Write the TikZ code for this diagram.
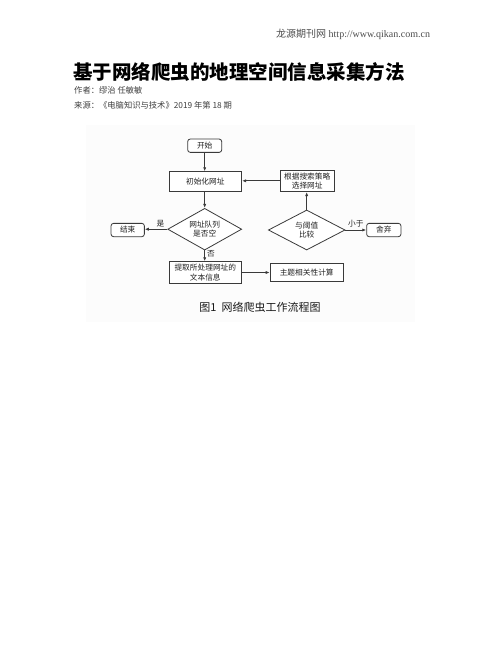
\documentclass[tikz,border=0pt]{standalone}
\usepackage{fontspec}
\setmainfont{Liberation Serif}
\newfontfamily\cjk{Noto Sans CJK SC}
\usetikzlibrary{shapes.geometric,arrows.meta}
\definecolor{linec}{HTML}{3A3A3A}
\definecolor{txtc}{HTML}{222222}
\tikzset{
  fbox/.style={draw=linec,fill=white,line width=0.8pt,inner sep=0pt,align=center,text=txtc,font=\cjk\fontsize{7.7}{9.2}\selectfont},
  rbox/.style={fbox,rounded corners=2.5pt},
  dbox/.style={fbox,diamond,aspect=1.8},
  conn/.style={draw=linec,line width=0.8pt,-{Latex[length=4pt,width=3.2pt]}},
  lbl/.style={text=txtc,inner sep=0pt,font=\cjk\fontsize{7.7}{9}\selectfont}
}
\begin{document}
\begin{tikzpicture}[x=1pt,y=-1pt]
\useasboundingbox[fill=white] (0,0) rectangle (502,649);
% header
\node[anchor=west,inner sep=0pt,text=black!70] (hdr) at (276,34) {{\cjk\fontsize{10}{12}\selectfont 龙源期刊网} {\fontsize{10}{12}\selectfont http://www.qikan.com.cn}};
\node[anchor=west,inner sep=0pt] (title) at (73,71.5) {\cjk\bfseries\fontsize{19.5}{22}\selectfont 基于网络爬虫的地理空间信息采集方法};
\node[anchor=west,inner sep=0pt,text=black!75] (auth) at (74,90.7) {\cjk\fontsize{8.3}{10}\selectfont 作者：缪治 任敏敏};
\node[anchor=west,inner sep=0pt,text=black!75] (src) at (74,105) {\cjk\fontsize{8.3}{10}\selectfont 来源：《电脑知识与技术》2019 年第 18 期};
% figure background
\fill[black!1] (86,125) rectangle (415,322);
% nodes
\node[rbox,minimum width=34pt,minimum height=13.3pt] (start) at (204.7,145.7) {开始};
\node[fbox,minimum width=72.7pt,minimum height=20pt] (init) at (205.3,181.7) {初始化网址};
\node[fbox,minimum width=54.3pt,minimum height=21.7pt] (choose) at (307.2,180.8) {根据搜索策略\\选择网址};
\node[dbox,minimum width=74pt,minimum height=41.7pt] (q) at (204.7,229.2) {网址队列\\是否空};
\node[rbox,minimum width=33.3pt,minimum height=13.3pt] (end) at (127.7,230) {结束};
\node[fbox,minimum width=72.7pt,minimum height=21.7pt] (extract) at (205.3,272.5) {提取所处理网址的\\文本信息};
\node[fbox,minimum width=73.3pt,minimum height=18.3pt] (topic) at (306.7,272.5) {主题相关性计算};
\node[dbox,minimum width=76.7pt,minimum height=40pt] (cmp) at (306.7,230) {与阈值\\比较};
\node[rbox,minimum width=34.3pt,minimum height=13.3pt] (drop) at (383.8,230) {舍弃};
% connectors
\draw[conn] (start.south) -- (start.south |- init.north);
\draw[conn] (choose.west) -- (init.east |- choose.west);
\draw[conn] (init.south -| q.north) -- (q.north);
\draw[conn] (q.west) -- (end.east |- q.west) node[lbl,pos=0.3,above=2pt] (yes) {是};
\draw[conn] (q.south) -- (q.south |- extract.north) node[lbl,pos=0.3,right=2pt] (no) {否};
\draw[conn] (extract.east) -- (topic.west |- extract.east);
\draw[conn] (cmp.north) -- (cmp.north |- choose.south);
\draw[conn] (cmp.east) -- (drop.west |- cmp.east) node[lbl,midway,above=2pt] (less) {小于};
% caption
\node[inner sep=0pt,text=black!90] (cap) at (260,307.7) {\cjk\fontsize{11}{13}\selectfont 图1\ \ 网络爬虫工作流程图};
\end{tikzpicture}
\end{document}
